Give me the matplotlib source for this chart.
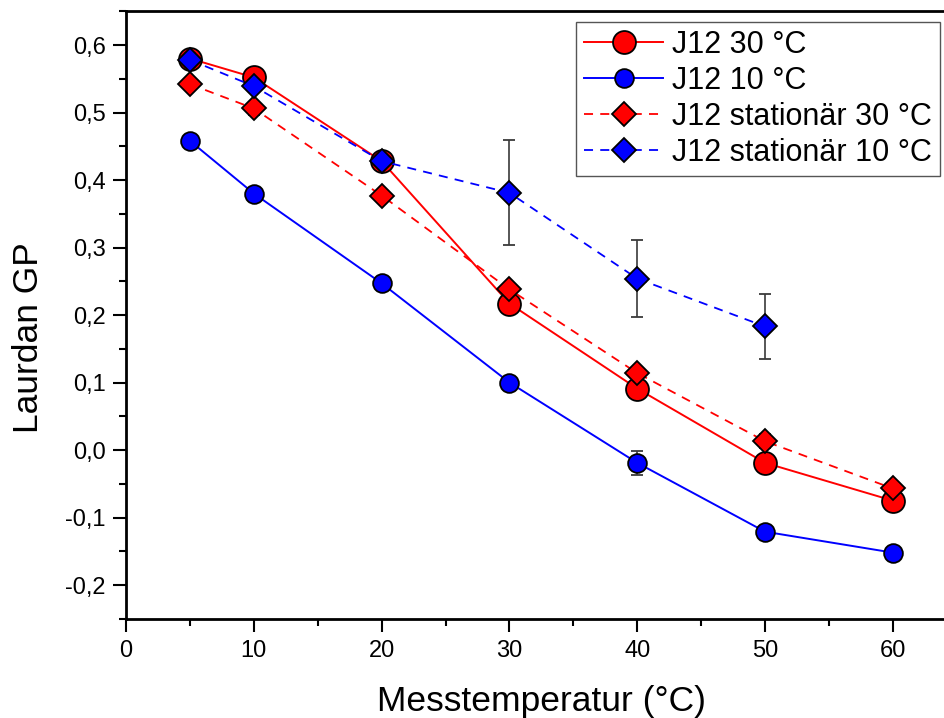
import numpy as np
import matplotlib.pyplot as plt
from matplotlib.ticker import MultipleLocator, FuncFormatter

plt.rcParams['font.family'] = ['Liberation Sans', 'DejaVu Sans']

temp = [5, 10, 20, 30, 40, 50, 60]
temp_stat10 = [5, 10, 20, 30, 40, 50]

gp_30 = [0.580, 0.552, 0.428, 0.217, 0.091, -0.019, -0.075]
err_30 = [0.008, 0.008, 0.008, 0.008, 0.006, 0.010, 0.010]

gp_10 = [0.458, 0.380, 0.247, 0.100, -0.019, -0.121, -0.152]
err_10 = [0.004, 0.005, 0.004, 0.004, 0.018, 0.008, 0.007]

gp_stat30 = [0.542, 0.506, 0.377, 0.238, 0.114, 0.013, -0.057]
err_stat30 = [0.008, 0.010, 0.004, 0.006, 0.006, 0.010, 0.008]

gp_stat10 = [0.578, 0.539, 0.428, 0.381, 0.254, 0.183]
err_stat10 = [0.010, 0.008, 0.008, 0.078, 0.057, 0.048]

labels = ['J12 30 °C', 'J12 10 °C', 'J12 stationär 30 °C', 'J12 stationär 10 °C']

fig = plt.figure(figsize=(9.44, 7.18), dpi=100)
ax = fig.add_axes([0.1335, 0.1382, 0.88, 0.8461])

red = '#ff0000'
blue = '#0000ff'
ebar = dict(ecolor='#3a3a3a', elinewidth=1.2, capsize=4.5, capthick=1.2)
dash = (0, (5, 4))

e1 = ax.errorbar(temp, gp_30, yerr=err_30, color=red, lw=1.4, marker='o', ms=16.5,
                 mfc=red, mec='black', mew=1.3, zorder=3, **ebar)
e2 = ax.errorbar(temp, gp_10, yerr=err_10, color=blue, lw=1.4, marker='o', ms=13.5,
                 mfc=blue, mec='black', mew=1.3, zorder=3, **ebar)
e3 = ax.errorbar(temp, gp_stat30, yerr=err_stat30, color=red, lw=1.3, ls=dash,
                 marker='D', ms=12.5, mfc=red, mec='black', mew=1.3, zorder=4, **ebar)
e4 = ax.errorbar(temp_stat10, gp_stat10, yerr=err_stat10, color=blue, lw=1.3, ls=dash,
                 marker='D', ms=12.5, mfc=blue, mec='black', mew=1.3, zorder=4, **ebar)

ax.set_xlim(0, 65)
ax.set_ylim(-0.25, 0.65)
ax.xaxis.set_major_locator(MultipleLocator(10))
ax.xaxis.set_minor_locator(MultipleLocator(5))
ax.yaxis.set_major_locator(MultipleLocator(0.1))
ax.yaxis.set_minor_locator(MultipleLocator(0.05))
ax.yaxis.set_major_formatter(FuncFormatter(lambda v, p: f'{v:.1f}'.replace('.', ',')))

ax.tick_params(which='major', direction='out', length=9.5, width=1.5, labelsize=17, pad=5)
ax.tick_params(axis='x', which='major', pad=6)
ax.tick_params(which='minor', direction='out', length=5, width=1.5)
ax.tick_params(top=False, right=False)
for side in ['left', 'bottom', 'top']:
    ax.spines[side].set_linewidth(2)

ax.set_xlabel('Messtemperatur (°C)', fontsize=25.5, labelpad=16)
ax.set_ylabel('Laurdan GP', fontsize=25.5)
ax.yaxis.set_label_coords(-0.097, 0.462)

leg = ax.legend(handles=[e1[0], e2[0], e3[0], e4[0]], labels=labels,
                loc='upper right', bbox_to_anchor=(940 / 944, 1 - 22 / 718),
                bbox_transform=fig.transFigure, borderaxespad=0, fontsize=22,
                handlelength=2.6, labelspacing=0.2, handletextpad=0.3, borderpad=0.25,
                fancybox=False, framealpha=1, edgecolor='#555555')
leg.get_frame().set_linewidth(1.0)

fig.savefig('out.png', dpi=100)
